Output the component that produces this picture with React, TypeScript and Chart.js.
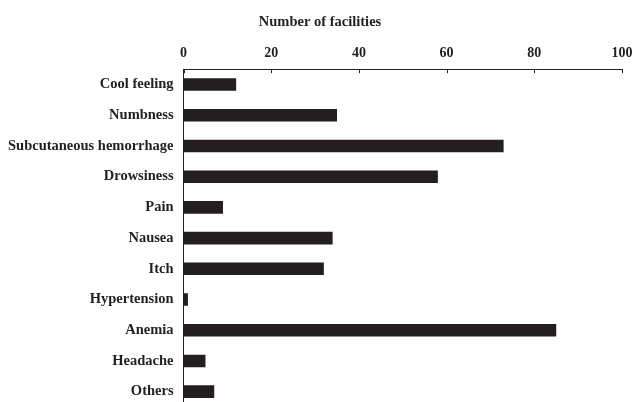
import React, { useEffect, useRef } from "react";
import { Chart, registerables } from "chart.js";

Chart.register(...registerables);

const categories = [
  "Cool feeling",
  "Numbness",
  "Subcutaneous hemorrhage",
  "Drowsiness",
  "Pain",
  "Nausea",
  "Itch",
  "Hypertension",
  "Anemia",
  "Headache",
  "Others",
];
const facilities = [12, 35, 73, 58, 9, 34, 32, 1, 85, 5, 7];
const xTicks = [0, 20, 40, 60, 80, 100];
const chartTitle = "Number of facilities";

const INK = "#231f20";

const inwardTicks = {
  id: "inwardTicks",
  afterDraw(chart: any) {
    const x = chart.scales.x;
    const ctx = chart.ctx;
    ctx.save();
    ctx.strokeStyle = INK;
    ctx.lineWidth = 1;
    ctx.beginPath();
    for (const t of x.ticks) {
      const px = Math.round(x.getPixelForValue(t.value)) + 0.5;
      ctx.moveTo(px, chart.chartArea.top);
      ctx.lineTo(px, chart.chartArea.top + 4);
    }
    ctx.stroke();
    ctx.restore();
  },
};

export default function App() {
  const ref = useRef<HTMLCanvasElement | null>(null);
  useEffect(() => {
    if (!ref.current) return;
    const family = "'Liberation Serif', 'Times New Roman', serif";
    const font = { family, size: 14.5, weight: "bold" as const };
    const tickFont = { family, size: 14, weight: "bold" as const };
    const chart = new Chart(ref.current, {
      type: "bar",
      data: {
        labels: categories,
        datasets: [
          {
            data: facilities,
            backgroundColor: INK,
            borderWidth: 0,
            barPercentage: 0.82,
            categoryPercentage: 0.5,
          },
        ],
      },
      options: {
        indexAxis: "y",
        responsive: false,
        animation: false,
        layout: { padding: { left: 7, right: 2, top: 0, bottom: 0 } },
        plugins: {
          legend: { display: false },
          tooltip: { enabled: false },
          title: {
            display: true,
            text: chartTitle,
            color: INK,
            font,
            padding: { top: 14, bottom: 7 },
          },
        },
        scales: {
          x: {
            position: "top",
            min: 0,
            max: 100,
            afterBuildTicks: (scale: any) => {
              scale.ticks = xTicks.map((v) => ({ value: v }));
            },
            afterFit: (s: any) => {
              s.paddingLeft = 0;
              s.paddingRight = 13;
            },
            ticks: { color: INK, font: tickFont, padding: 7, maxRotation: 0 },
            grid: { display: false, drawTicks: false },
            border: { display: true, color: INK, width: 1 },
          },
          y: {
            afterFit: (s: any) => {
              s.paddingTop = 0;
              s.paddingBottom = 0;
              s.width = s.width - 9;
            },
            ticks: { color: INK, font, padding: 10 },
            grid: { display: false, drawTicks: false },
            border: { display: true, color: INK, width: 1 },
          },
        },
      },
      plugins: [inwardTicks],
    });
    return () => chart.destroy();
  }, []);
  return (
    <div
      style={{
        position: "fixed",
        top: 0,
        left: 0,
        width: 635,
        height: 402,
        overflow: "hidden",
        background: "#fff",
      }}
    >
      <canvas ref={ref} width={635} height={407} style={{ width: 635, height: 407, display: "block" }} />
    </div>
  );
}
